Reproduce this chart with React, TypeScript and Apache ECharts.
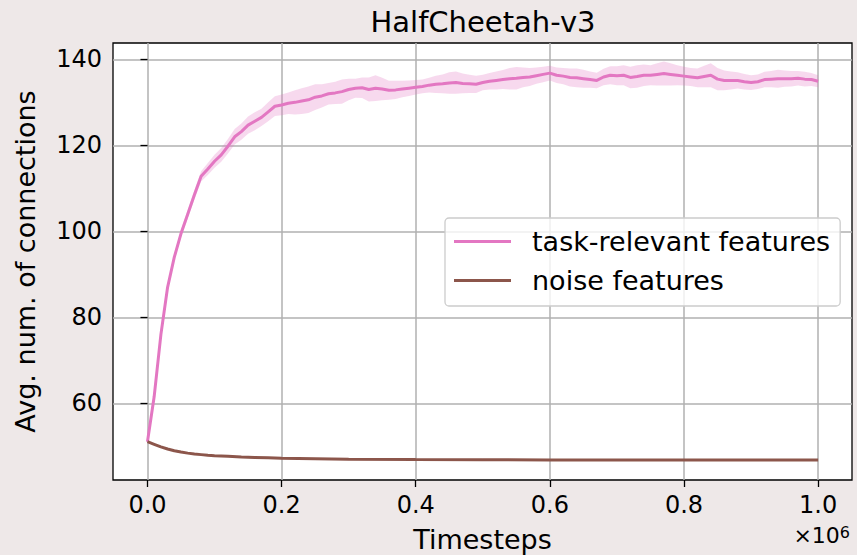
import React, { useEffect, useRef } from "react";
import * as echarts from "echarts";

const TITLE = "HalfCheetah-v3";
const X_NAME = "Timesteps";
const Y_NAME = "Avg. num. of connections";
const X_TICKS = [0, 0.2, 0.4, 0.6, 0.8, 1.0];
const Y_TICKS = [60, 80, 100, 120, 140];

// evaluation timesteps (x 1e6)
const STEPS = Array.from({ length: 101 }, (_, i) => i / 100);

// task-relevant features: mean
const TASK_MEAN = [
  51.1, 61.6, 76.0, 87.0, 94.0, 99.5, 104.0, 108.5, 112.8, 114.5,
  116.3, 117.8, 119.8, 122.0, 123.2, 124.7, 125.6, 126.5, 127.8, 129.1,
  129.4, 129.8, 130.0, 130.3, 130.6, 131.2, 131.5, 132.0, 132.2, 132.5,
  133.0, 133.3, 133.4, 133.0, 133.3, 133.1, 132.8, 132.9, 133.1, 133.3,
  133.5, 133.7, 134.0, 134.2, 134.3, 134.5, 134.6, 134.4, 134.3, 134.2,
  134.6, 134.9, 135.1, 135.3, 135.5, 135.6, 135.8, 135.9, 136.2, 136.5,
  136.8, 136.3, 136.1, 135.8, 135.7, 135.5, 135.3, 135.1, 135.9, 136.3,
  136.2, 136.3, 135.8, 136.0, 136.3, 136.3, 136.5, 136.7, 136.5, 136.3,
  136.1, 135.9, 135.7, 136.0, 136.3, 135.4, 135.1, 135.1, 135.1, 134.8,
  134.6, 134.8, 135.3, 135.4, 135.5, 135.5, 135.5, 135.6, 135.4, 135.3,
  134.9,
];

// task-relevant features: half-width of shaded band
const TASK_SPREAD = [
  0.2, 0.5, 0.7, 0.7, 0.8, 0.9,
  1.0, 1.1, 1.2, 1.4, 1.5,
  1.6, 1.7, 1.8, 1.9, 2.0, 2.1, 2.0, 2.2, 2.3, 2.4,
  2.5, 2.8, 3.0, 3.1, 3.0, 2.7, 2.5, 2.6, 2.8, 2.5, 2.2, 2.4, 2.8, 3.0, 2.6,
  2.2, 2.1, 1.9, 1.8, 1.7, 1.6, 1.7, 2.0, 2.2, 2.5, 2.6, 2.3, 2.1, 2.0, 1.8,
  1.9, 2.1, 2.2, 2.5, 2.6, 2.3, 2.1, 1.9, 1.8, 1.7, 1.8, 1.9, 2.1, 2.2, 2.1,
  1.9, 1.8, 1.9, 2.1, 2.2, 2.3, 2.5, 2.6, 2.5, 2.3, 2.6, 2.8, 2.6, 2.3, 2.2,
  2.1, 2.2, 2.5, 2.8, 2.6, 2.3, 2.1, 1.9, 1.8, 1.7, 1.7, 1.8, 1.9, 2.1, 1.9,
  1.8, 1.7, 1.7, 1.5, 1.4,
];

// noise features
const NOISE_STEPS = [0, 0.01, 0.02, 0.03, 0.04, 0.05, 0.06, 0.07, 0.08, 0.09, 0.1, 0.12, 0.14, 0.16, 0.18, 0.2, 0.25, 0.3, 0.4, 0.5, 0.6, 0.7, 0.8, 0.9, 1.0];
const NOISE_MEAN = [51.1, 50.5, 49.9, 49.4, 49.0, 48.7, 48.45, 48.25, 48.1, 47.95, 47.85, 47.7, 47.55, 47.45, 47.35, 47.25, 47.15, 47.05, 46.95, 46.9, 46.85, 46.85, 46.85, 46.85, 46.85];

const PINK = "#e377c2";
const BROWN = "#8c564b";
const FONT = "DejaVu Sans";

export default function App() {
  const ref = useRef<HTMLDivElement>(null);
  useEffect(() => {
    if (!ref.current) return;
    const chart = echarts.init(ref.current, undefined, { renderer: "svg" });
    const band = STEPS.map((x, i) => [x, TASK_MEAN[i] - TASK_SPREAD[i], TASK_MEAN[i] + TASK_SPREAD[i]]);
    const mean = STEPS.map((x, i) => [x, TASK_MEAN[i]]);
    const noise = NOISE_STEPS.map((x, i) => [x, NOISE_MEAN[i]]);
    chart.setOption({
      animation: false,
      backgroundColor: "#eee8e8",
      title: {
        text: TITLE,
        left: 478,
        top: 2,
        textAlign: "center",
        textStyle: { fontFamily: FONT, fontSize: 29, fontWeight: "normal", color: "#000" },
      },
      grid: {
        left: 113,
        top: 43,
        right: 5,
        bottom: 75,
        outerBoundsMode: "none",
        containLabel: false,
        show: true,
        backgroundColor: "#fff",
        borderColor: "#000",
        borderWidth: 1.3,
      },
      legend: {
        data: [
          { name: "task-relevant features", icon: "rect" },
          { name: "noise features", icon: "rect" },
        ],
        orient: "vertical",
        left: 445,
        top: 218,
        itemWidth: 57,
        itemHeight: 3,
        itemGap: 12,
        padding: [10, 10, 12, 9],
        backgroundColor: "rgba(255,255,255,0.8)",
        borderColor: "#cccccc",
        borderWidth: 1.3,
        borderRadius: 4,
        textStyle: { fontFamily: FONT, fontSize: 27, color: "#000", padding: [0, 0, 0, 16] },
      },
      xAxis: {
        type: "value",
        min: -0.0514,
        max: 1.0505,
        name: X_NAME,
        nameLocation: "middle",
        nameGap: 46,
        nameTextStyle: { fontFamily: FONT, fontSize: 27, color: "#000" },
        axisLine: { show: false },
        axisTick: { show: true, customValues: X_TICKS, length: 7, lineStyle: { color: "#000", width: 1.3 } },
        axisLabel: {
          customValues: X_TICKS,
          formatter: (v: number) => v.toFixed(1),
          fontFamily: FONT,
          fontSize: 24,
          color: "#000",
          margin: 13,
        },
        splitLine: { show: true, lineStyle: { color: "#b0b0b0", width: 1.5 } },
      },
      yAxis: {
        type: "value",
        min: 42.2,
        max: 143.8,
        name: Y_NAME,
        nameLocation: "middle",
        nameGap: 74,
        nameTextStyle: { fontFamily: FONT, fontSize: 27, color: "#000" },
        axisLine: { show: false },
        axisTick: { show: true, customValues: Y_TICKS, length: 7, lineStyle: { color: "#000", width: 1.3 } },
        axisLabel: {
          customValues: Y_TICKS,
          formatter: (v: number) => String(Math.round(v)),
          fontFamily: FONT,
          fontSize: 24,
          color: "#000",
          margin: 11,
        },
        splitLine: { show: true, lineStyle: { color: "#b0b0b0", width: 1.5 } },
      },
      graphic: [
        {
          type: "text",
          right: 7,
          top: 524,
          style: {
            text: "×10{s|6}",
            fontFamily: FONT,
            fontSize: 22,
            fill: "#000",
            rich: { s: { fontFamily: FONT, fontSize: 16, verticalAlign: "top", fill: "#000" } },
          },
        },
      ],
      series: [
        {
          name: "band",
          type: "custom",
          data: band,
          encode: { x: 0, y: [1, 2] },
          silent: true,
          z: 1,
          renderItem: (params: any, api: any) => {
            if (params.dataIndex !== 0) return null;
            const top = band.map((r) => api.coord([r[0], r[2]]));
            const bot = band.map((r) => api.coord([r[0], r[1]])).reverse();
            return {
              type: "polygon",
              shape: { points: top.concat(bot) },
              style: { fill: "rgba(227,119,194,0.28)", stroke: "none" },
            };
          },
        },
        {
          name: "task-relevant features",
          type: "line",
          data: mean,
          symbol: "none",
          color: PINK,
          z: 3,
          lineStyle: { color: PINK, width: 3 },
        },
        {
          name: "noise features",
          type: "line",
          data: noise,
          symbol: "none",
          color: BROWN,
          z: 3,
          lineStyle: { color: BROWN, width: 3 },
        },
      ],
    });
    return () => chart.dispose();
  }, []);
  return <div ref={ref} style={{ position: "fixed", left: 0, top: 0, width: 857, height: 555 }} />;
}
